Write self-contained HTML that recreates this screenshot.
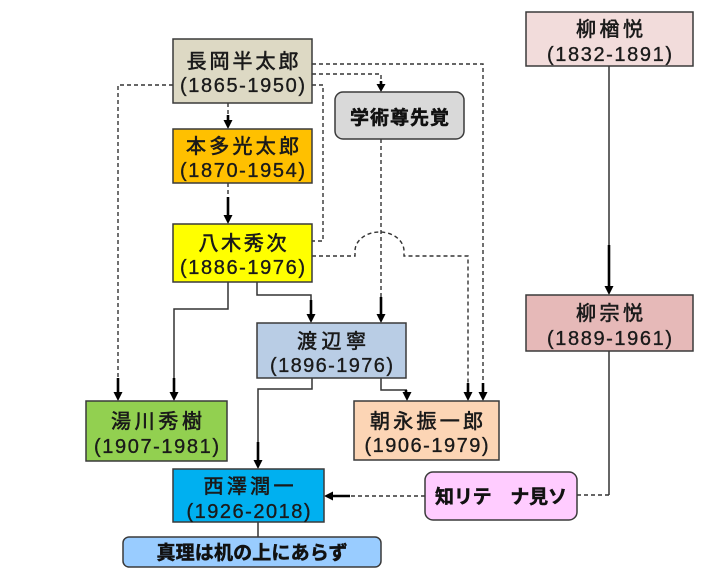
<!DOCTYPE html>
<html><head><meta charset="utf-8"><style>
html,body{margin:0;padding:0;background:#fff;width:714px;height:577px;overflow:hidden}
svg{display:block}
.n{font-family:"Liberation Sans","Noto Sans CJK JP",sans-serif;font-size:20px;fill:#1a1a1a;stroke:#1a1a1a;stroke-width:0.6px;text-anchor:middle}
.y{font-family:"Liberation Sans","Noto Sans CJK JP",sans-serif;font-size:20px;fill:#1a1a1a;stroke:#1a1a1a;stroke-width:0.35px;text-anchor:middle}
.b{font-family:"Liberation Sans","Noto Sans CJK JP",sans-serif;font-weight:bold;fill:#111;stroke:#111;stroke-width:0.5px;text-anchor:middle}
.box{stroke:#3a3a3a;stroke-width:1.5}
.d{fill:none;stroke:#333;stroke-width:1.4;stroke-dasharray:4 3}
.s{fill:none;stroke:#333;stroke-width:1.5}
.t{fill:none;stroke:#000;stroke-width:2.6}
.a{fill:#000}
</style></head><body>
<svg width="714" height="577" viewBox="0 0 714 577" xmlns="http://www.w3.org/2000/svg">
<path class="d" d="M173 85 H118 V378"/>
<path class="t" d="M118 378 V393"/><polygon class="a" points="113.5,392 122.5,392 118,401"/>
<path class="d" d="M312 74 H381 V82"/>
<path class="t" d="M381 81 V85"/><polygon class="a" points="376.5,84 385.5,84 381,92"/>
<path class="d" d="M312 64 H483 V383"/>
<path class="t" d="M483 383 V393"/><polygon class="a" points="478.5,392 487.5,392 483,401"/>
<path class="d" d="M312 85 H323 V241 H312"/>
<path class="d" d="M228 103 V115"/>
<path class="t" d="M228 115 V121"/><polygon class="a" points="223.5,120 232.5,120 228,129"/>
<path class="d" d="M228 183 V197"/>
<path class="t" d="M228 197 V216"/><polygon class="a" points="223.5,215 232.5,215 228,224"/>
<path class="d" d="M381 139 V297"/>
<path class="t" d="M381 297 V315"/><polygon class="a" points="376.5,314 385.5,314 381,323"/>
<path class="d" d="M312 256 H355 V251 A24.5 19 0 0 1 404 251 V256 H468 V383"/>
<path class="t" d="M468 383 V393"/><polygon class="a" points="463.5,392 472.5,392 468,401"/>
<path class="s" d="M228 282 V309 H174 V378"/>
<path class="t" d="M174 378 V393"/><polygon class="a" points="169.5,392 178.5,392 174,401"/>
<path class="s" d="M257 282 V295 H311 V300"/>
<path class="t" d="M311 300 V315"/><polygon class="a" points="306.5,314 315.5,314 311,323"/>
<path class="s" d="M381 378 V390 H407"/>
<path class="t" d="M406 390 V393"/><polygon class="a" points="402.5,392 411.5,392 407,401"/>
<path class="s" d="M312 378 V389 H258 V442"/>
<path class="t" d="M258 442 V461"/><polygon class="a" points="253.5,460 262.5,460 258,469"/>
<path class="s" d="M258 522 V537"/>
<path class="d" d="M425 496 H350"/>
<path class="t" d="M350 496 H332"/><polygon class="a" points="333,491.5 333,500.5 324,496"/>
<path class="s" d="M609 66 V245"/>
<path class="t" d="M609 245 V287"/><polygon class="a" points="604.5,286 613.5,286 609,295"/>
<path class="s" d="M609 351 V495"/>
<path class="d" d="M609 495 H577"/>

<rect class="box" x="173" y="39" width="139" height="64" fill="#ddd9c4"/>
<text class="n" x="242.5" y="68" textLength="112" lengthAdjust="spacing">長岡半太郎</text>
<text class="y" x="242.5" y="92" textLength="125" lengthAdjust="spacing">(1865-1950)</text>

<rect class="box" x="173" y="129" width="139" height="54" fill="#ffc000"/>
<text class="n" x="242.5" y="153" textLength="113" lengthAdjust="spacing">本多光太郎</text>
<text class="y" x="242.5" y="177" textLength="125" lengthAdjust="spacing">(1870-1954)</text>

<rect class="box" x="173" y="224" width="139" height="58" fill="#ffff00"/>
<text class="n" x="242.5" y="250" textLength="88" lengthAdjust="spacing">八木秀次</text>
<text class="y" x="242.5" y="274" textLength="125" lengthAdjust="spacing">(1886-1976)</text>

<rect class="box" x="335" y="92" width="129" height="47" rx="8" fill="#d9d9d9"/>
<text class="b" x="399.5" y="124" font-size="19" textLength="99" lengthAdjust="spacing">学術尊先覚</text>

<rect class="box" x="257" y="323" width="149" height="55" fill="#b9cde5"/>
<text class="n" x="331.5" y="348" textLength="69" lengthAdjust="spacing">渡辺寧</text>
<text class="y" x="331.5" y="372" textLength="123" lengthAdjust="spacing">(1896-1976)</text>

<rect class="box" x="86" y="401" width="141" height="60" fill="#92d050"/>
<text class="n" x="156.5" y="428" textLength="91" lengthAdjust="spacing">湯川秀樹</text>
<text class="y" x="156.5" y="453" textLength="125" lengthAdjust="spacing">(1907-1981)</text>

<rect class="box" x="354" y="401" width="145" height="59" fill="#fcd5b5"/>
<text class="n" x="426.5" y="428" textLength="113" lengthAdjust="spacing">朝永振一郎</text>
<text class="y" x="426.5" y="452" textLength="124" lengthAdjust="spacing">(1906-1979)</text>

<rect class="box" x="173" y="469" width="151" height="53" fill="#00b0f0"/>
<text class="n" x="248.5" y="493" textLength="90" lengthAdjust="spacing">西澤潤一</text>
<text class="y" x="248.5" y="518" textLength="124" lengthAdjust="spacing">(1926-2018)</text>

<rect class="box" x="123" y="537" width="258" height="30" rx="6" fill="#99ccff"/>
<text class="b" x="252" y="559" font-size="19" textLength="191" lengthAdjust="spacing">真理は机の上にあらず</text>

<rect class="box" x="425" y="472" width="152" height="48" rx="8" fill="#ffccff"/>
<text class="b" x="501" y="503" font-size="19" textLength="132" lengthAdjust="spacing">知リテ　ナ見ソ</text>

<rect class="box" x="526" y="12" width="167" height="54" fill="#f2dcdb"/>
<text class="n" x="609.5" y="36" textLength="67" lengthAdjust="spacing">柳楢悦</text>
<text class="y" x="609.5" y="61" textLength="125" lengthAdjust="spacing">(1832-1891)</text>

<rect class="box" x="526" y="295" width="167" height="56" fill="#e6b9b8"/>
<text class="n" x="609.5" y="320" textLength="67" lengthAdjust="spacing">柳宗悦</text>
<text class="y" x="609.5" y="345" textLength="125" lengthAdjust="spacing">(1889-1961)</text>
</svg>
</body></html>
